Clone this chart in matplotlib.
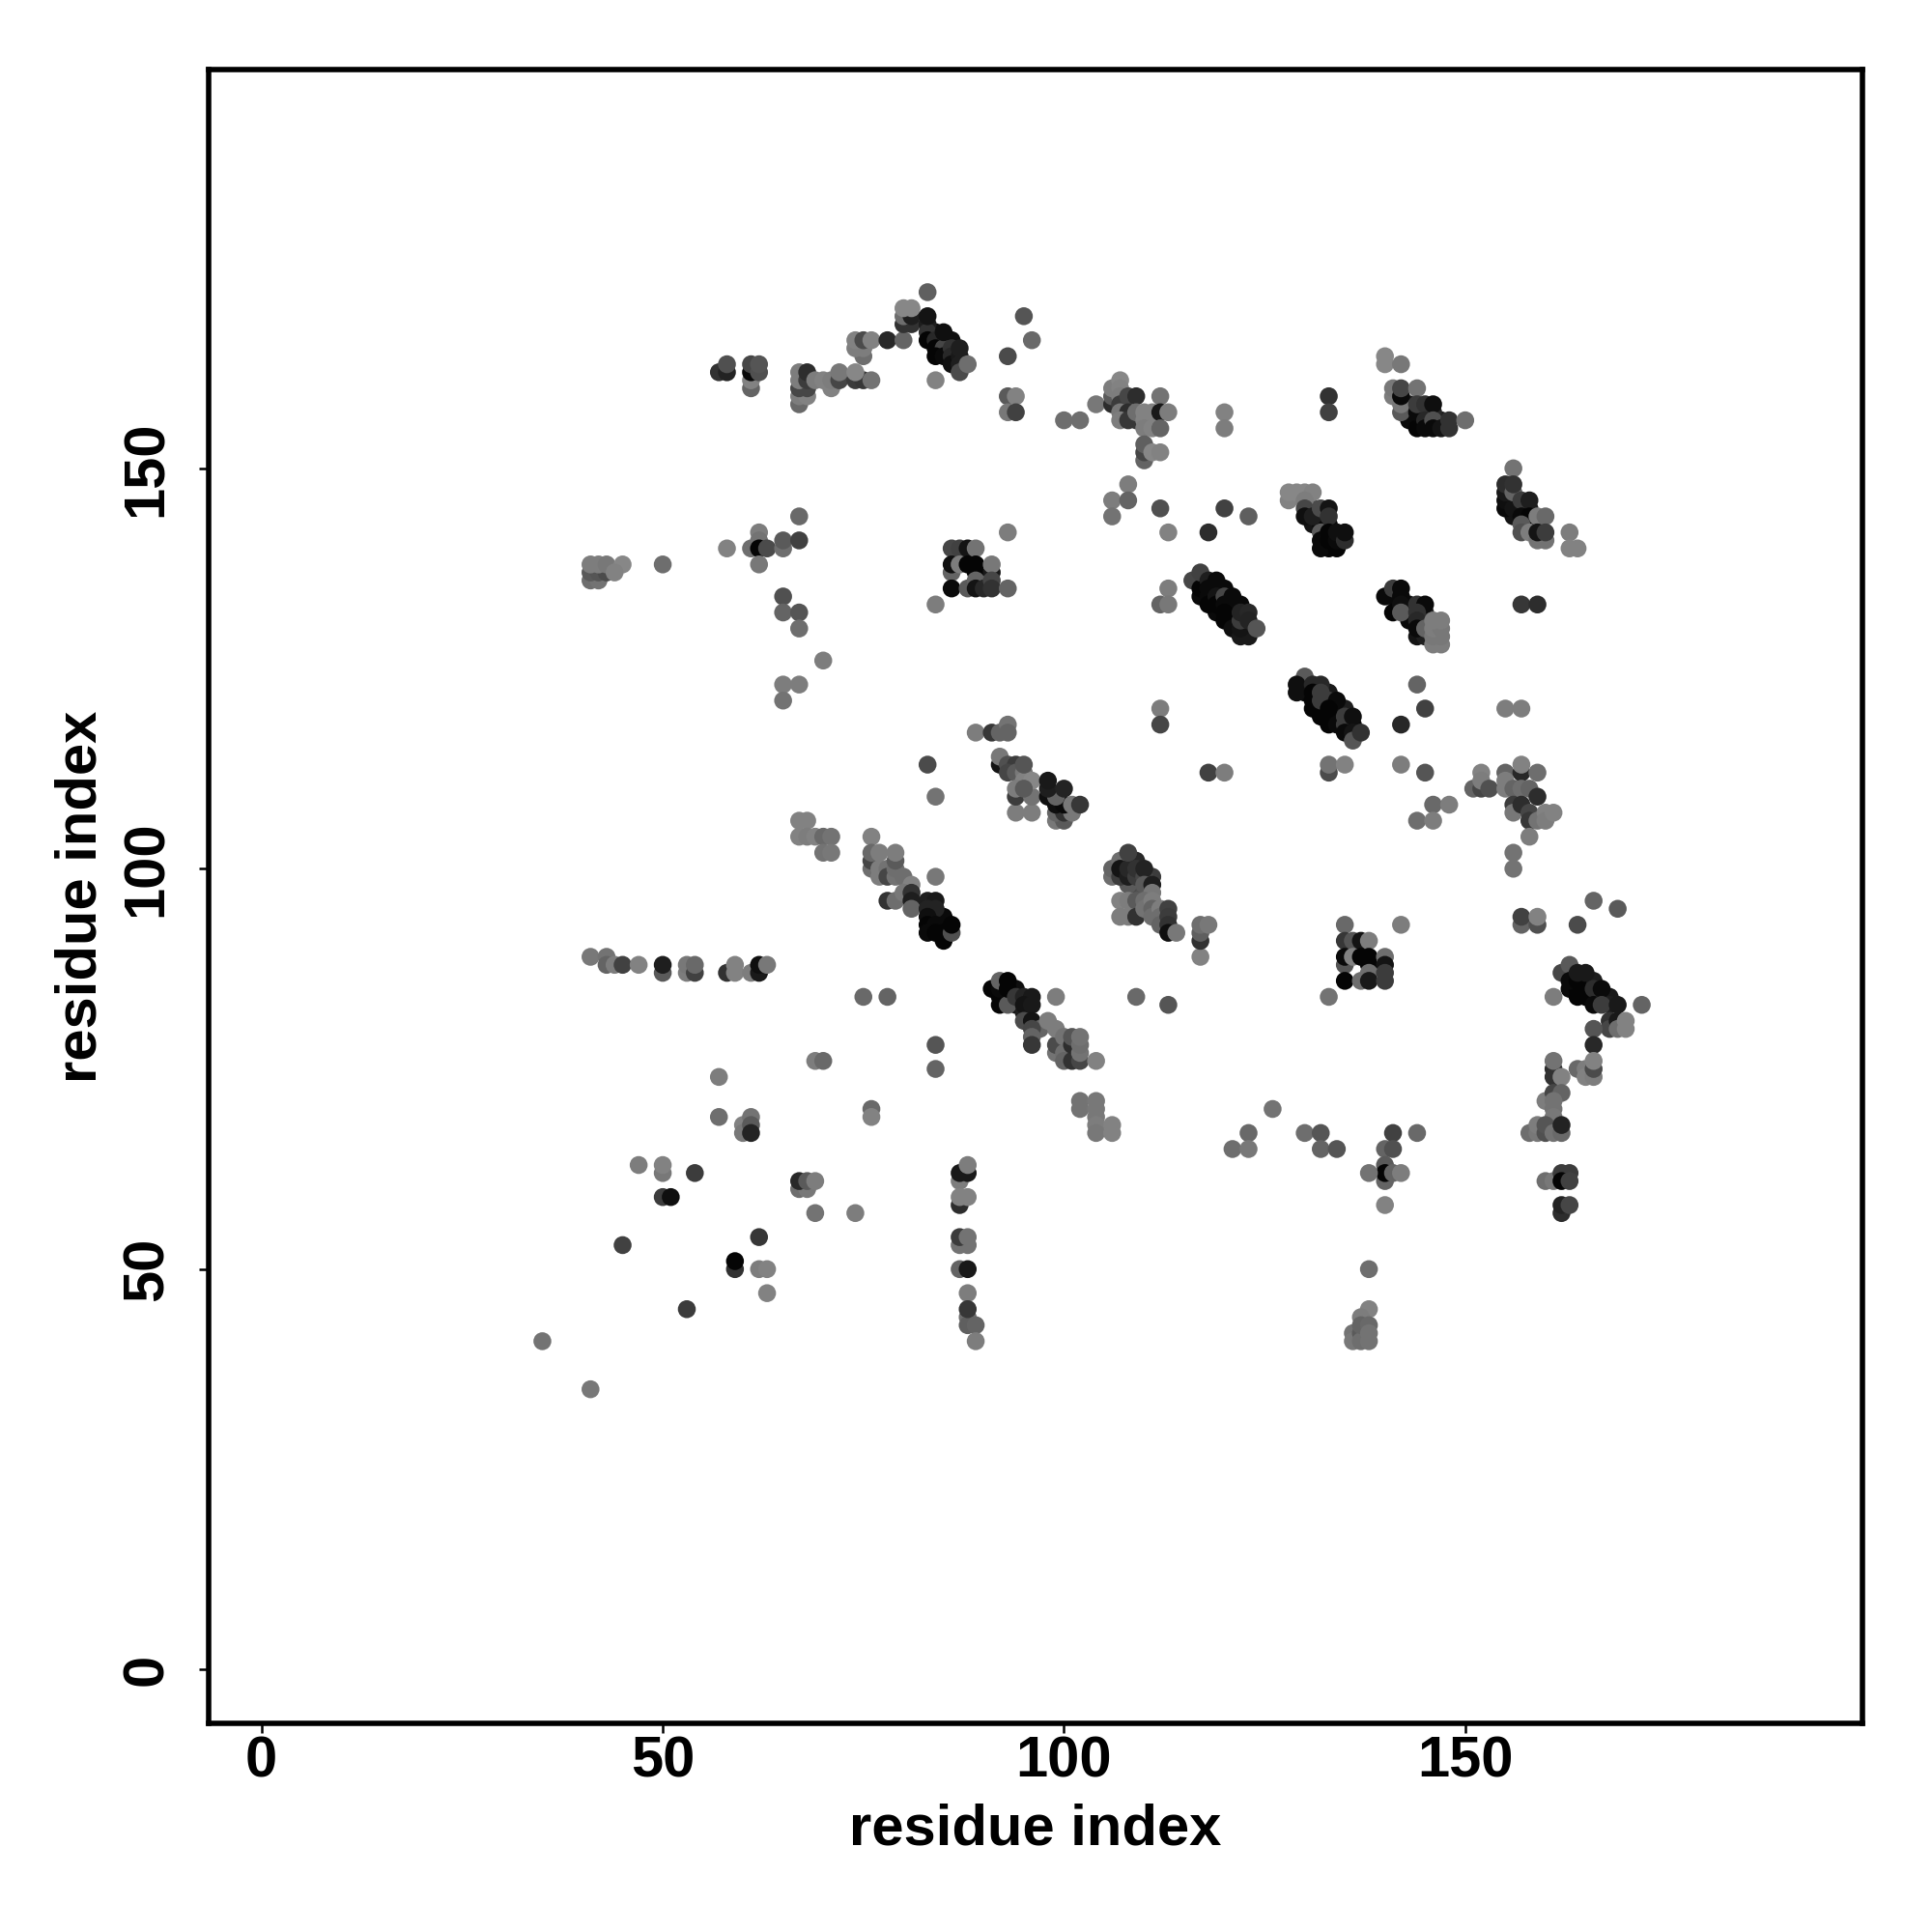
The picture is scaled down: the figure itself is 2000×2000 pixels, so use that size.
import matplotlib
matplotlib.use("Agg")
import numpy as np
import matplotlib.pyplot as plt

plt.rcParams['font.family'] = ['Liberation Sans', 'DejaVu Sans']
plt.rcParams['font.weight'] = 'bold'

# dots hidden under the dense diagonal bands, drawn first
under_x = [
    117,117,119,120,119,121,121,122,123,
    84,85,86,
    130,130,131,132,132,133,133,134,134,135,136,
    143,143,143,145,145,144,145,
    131,131,132,132,133,133,132,
    143,143,143,144,144,147,146,145,
    156,156,157,158,158,159,
    85,84,85,
    92,93,94,94,95,
    108,109,109,108,110,111,
    163,163,164,165,165,166,166,167,168,168,
]
under_y = [
    136,134,135,135,132,133,132,133,130,
    167,166,166,
    123,122,121,120,119,122,119,120,119,120,118,
    133,132,131,132,131,129,129,
    145,143,144,143,143,140,140,
    158,157,156,156,155,156,157,157,
    146,144,145,145,143,143,
    93,94,94,
    84,84,85,83,82,
    101,101,98,98,97,99,
    87,85,85,86,85,86,84,84,84,83,
]
under_shade = [
    10,10,10,10,10,10,10,10,20,
    15,15,15,
    10,10,5,5,5,25,5,15,10,30,10,
    15,10,10,40,40,20,30,
    70,20,40,10,10,5,10,
    30,10,10,10,5,30,40,30,
    30,20,25,30,20,30,
    10,15,10,
    5,5,15,20,30,
    40,40,70,90,80,60,
    20,10,5,30,5,30,10,15,25,30,
]

# contact map points, one row per cluster. shade is the grey level of the dot (0-255), later dots sit on top
res_x = [
    61,61,57,58,58,61,61,62,62,
    67,67,68,68,67,67,67,68,68,71,69,70,71,72,72,74,75,74,76,
    75,74,75,74,75,76,78,80,
    80,81,80,81,80,81,83,
    83,83,83,84,84,85,84,85,86,86,86,87,87,87,83,85,87,88,84,
    95,96,93,93,94,93,94,
    41,42,41,42,43,41,42,43,45,44,50,
    58,61,62,62,62,63,62,65,65,67,67,
    65,65,67,67,70,65,67,65,
    86,87,88,89,93,86,86,87,88,89,89,91,91,86,88,89,89,90,91,91,93,84,
    100,102,104,106,106,106,107,107,107,107,108,109,107,108,107,108,109,109,110,110,111,112,112,113,110,111,112,110,110,110,111,112,
    120,120,133,133,
    141,140,140,142,141,142,142,142,142,144,144,144,145,146,145,145,146,146,147,148,148,150,
    156,155,155,155,155,156,156,156,157,158,157,158,157,159,160,157,158,159,160,159,160,163,163,164,
    108,106,108,106,112,120,123,113,118,
    128,128,129,130,131,130,130,130,131,132,133,133,132,132,133,133,134,134,134,135,135,
    113,112,113,116,117,117,118,119,118,118,118,119,119,120,121,120,120,120,121,121,122,123,122,122,122,123,123,124,
    140,141,141,141,142,142,142,142,144,145,144,144,144,145,146,147,146,147,146,147,146,147,
    157,159,112,112,
    130,129,129,131,132,131,132,131,132,133,134,133,133,134,135,135,136,135,136,136,137,
    144,145,142,155,157,
    41,43,43,44,45,47,50,50,53,53,54,54,58,59,59,61,62,62,63,
    75,78,89,91,92,93,93,83,84,
    94,96,94,96,92,92,93,94,93,94,95,95,96,94,95,95,
    99,100,99,100,101,99,100,101,98,99,98,98,100,102,
    67,68,67,68,69,70,71,70,71,
    76,76,76,76,77,77,77,78,78,79,79,79,79,80,81,78,79,80,81,81,81,
    83,84,83,84,83,83,84,83,84,85,85,86,86,84,
    91,92,93,92,92,93,93,94,95,96,95,96,99,
    95,96,97,96,96,96,98,99,99,99,100,100,100,101,102,101,101,102,102,102,104,
    84,84,69,70,76,76,102,102,104,104,104,104,104,106,106,
    57,57,60,60,61,61,61,
    47,50,50,54,50,51,45,53,35,41,
    67,68,67,68,69,69,74,62,59,59,62,63,63,
    87,87,88,88,87,87,88,87,88,87,88,87,88,88,88,88,88,89,89,
    118,120,133,133,135,142,145,
    146,148,144,146,
    151,152,152,152,153,155,155,155,156,157,157,159,157,158,156,156,157,158,158,159,159,160,160,161,158,156,156,
    106,106,107,107,107,108,108,108,109,109,110,110,110,111,111,107,107,108,108,109,109,110,110,111,111,111,112,112,112,113,113,113,113,114,
    117,117,117,117,118,
    157,157,159,159,164,166,169,135,142,
    135,136,137,138,135,135,136,137,138,138,140,140,135,137,138,138,140,140,133,
    113,109,
    162,163,163,164,164,165,164,165,166,167,166,167,169,172,161,
    168,168,169,169,170,170,166,166,
    164,165,165,166,166,166,
    161,161,161,162,160,161,162,161,161,161,158,159,159,160,160,161,162,162,
    160,161,162,162,163,162,163,162,163,
    126,123,121,123,130,132,132,134,141,144,140,141,140,140,140,141,138,142,140,138,
    138,137,136,136,137,137,137,138,138,138,
]
res_y = [
    160,161,162,162,163,162,163,162,163,
    158,159,159,160,160,161,162,161,162,160,161,161,161,161,162,161,161,162,161,
    164,165,165,166,166,166,166,166,
    168,168,169,169,170,170,172,
    168,167,166,166,165,165,164,164,165,164,163,164,163,162,169,167,165,163,161,
    169,166,164,159,159,157,157,
    136,136,137,137,137,138,138,138,138,137,138,
    140,140,142,141,140,140,138,140,141,141,144,
    134,132,132,130,126,123,123,121,
    140,140,140,140,142,137,138,138,138,138,137,137,138,135,135,136,135,135,136,135,135,133,
    156,156,158,158,159,160,161,160,159,158,159,159,157,157,156,156,156,157,157,156,157,159,157,157,155,155,155,151,152,153,152,152,
    157,155,159,157,
    159,163,164,163,160,157,158,159,160,160,157,158,158,158,156,155,156,155,155,156,155,156,
    150,145,146,147,148,145,147,148,146,146,144,144,143,144,144,142,142,141,141,142,142,142,140,140,
    148,146,146,144,145,145,144,142,142,
    146,147,147,147,147,146,145,144,144,145,145,144,142,141,142,141,140,141,142,141,142,
    135,133,133,136,135,137,136,136,135,134,133,134,133,134,134,133,132,131,131,130,129,129,130,131,132,132,131,130,
    134,134,135,132,135,134,133,132,133,133,132,131,130,130,128,128,129,129,130,130,131,131,
    133,133,120,118,
    124,123,122,123,123,122,122,120,121,121,121,120,118,118,119,118,119,117,117,116,117,
    123,120,118,120,120,
    89,89,88,88,88,88,87,88,87,88,87,88,87,87,88,87,87,88,88,
    84,84,117,117,117,118,117,113,109,
    107,107,109,109,113,114,113,113,112,112,112,111,111,110,110,113,
    106,106,107,107,107,108,108,108,109,109,110,111,110,108,
    106,106,104,104,104,104,104,102,102,
    104,100,101,102,102,100,99,100,99,99,100,101,102,99,98,96,96,97,97,96,95,
    96,96,95,95,94,93,93,92,92,92,91,92,93,99,
    85,83,83,85,86,85,86,84,84,84,83,83,84,
    81,81,80,80,79,78,81,77,78,80,79,77,76,76,76,78,79,77,78,79,76,
    78,75,76,76,70,69,70,71,70,71,69,68,67,68,67,
    74,69,68,67,69,68,67,
    63,62,63,62,59,59,53,45,41,35,
    60,60,61,61,61,57,57,54,50,51,50,50,47,
    61,62,62,63,58,59,59,53,53,54,54,50,50,47,44,43,45,43,41,
    112,112,112,113,113,113,112,
    108,108,106,106,
    110,110,112,111,110,112,111,110,110,112,113,112,110,110,108,107,108,107,106,106,109,107,106,107,104,102,100,
    99,100,101,99,100,99,100,102,99,100,99,100,98,98,97,96,94,96,94,96,94,96,95,96,95,94,95,94,93,95,94,93,92,92,
    89,91,92,93,93,
    93,94,93,94,93,96,95,93,93,
    91,91,91,91,88,89,89,89,89,88,89,88,86,86,87,86,87,86,84,
    83,84,
    87,88,86,86,87,87,84,84,85,85,83,83,83,83,84,
    81,80,81,80,81,80,80,78,
    75,75,74,74,75,76,
    75,74,76,74,71,72,72,71,70,69,67,67,68,67,68,67,67,68,
    61,61,57,58,58,62,62,61,61,
    70,67,65,65,67,67,65,65,67,67,65,65,63,61,62,62,62,62,58,50,
    45,44,42,41,42,41,43,43,41,42,
]
shade = [
    100,130,50,35,80,10,70,80,85,
    105,125,130,70,70,125,125,60,45,130,125,130,125,70,120,60,55,135,115,
    110,125,125,130,75,130,40,100,
    50,50,110,30,135,135,95,
    30,50,5,40,5,70,5,10,50,40,15,25,30,75,20,15,30,110,130,
    85,105,75,90,130,120,65,
    110,115,90,85,75,125,125,120,135,130,110,
    130,110,125,115,5,75,120,110,90,65,105,
    80,100,85,110,125,125,125,115,
    70,65,20,115,125,100,15,125,5,5,5,25,120,10,90,100,20,40,70,50,100,125,
    110,110,120,45,90,125,135,130,125,60,70,45,120,45,125,55,55,110,130,130,130,115,25,125,125,130,100,100,70,95,135,130,
    130,125,50,65,
    125,135,135,120,120,90,120,10,70,115,10,60,50,15,40,10,80,10,20,50,50,110,
    115,10,15,25,45,20,100,50,60,30,10,5,90,125,105,80,125,115,115,20,60,125,130,130,
    125,125,100,115,80,65,95,130,45,
    130,135,135,135,130,125,70,15,30,75,20,50,90,10,5,5,5,10,15,45,15,
    125,100,120,70,5,65,30,10,10,10,5,20,5,70,10,10,5,5,5,15,25,25,20,60,35,40,35,85,
    10,10,60,5,10,10,15,90,50,10,50,40,10,100,125,125,120,120,125,120,125,125,
    55,45,125,70,
    90,15,15,40,40,5,60,5,60,60,10,5,5,10,60,60,15,10,20,85,50,
    100,65,40,125,125,
    120,115,100,125,65,130,90,30,125,120,65,105,50,130,130,125,25,15,120,
    105,100,125,55,100,115,100,75,115,
    125,125,60,115,20,120,80,60,70,90,120,130,135,125,90,85,
    120,90,100,50,120,15,10,120,15,100,30,25,35,55,
    130,130,130,125,130,105,115,115,120,
    130,110,70,105,125,125,125,115,70,115,110,90,125,110,130,50,110,120,50,30,100,
    30,25,35,35,15,5,10,10,5,5,5,80,5,120,
    5,5,90,10,100,5,5,55,35,25,20,25,125,
    75,20,100,70,100,55,125,115,75,125,115,110,100,50,70,45,85,115,110,115,130,
    85,100,125,105,105,130,115,115,120,120,120,125,120,130,130,
    125,110,130,120,115,90,35,
    125,120,130,60,60,15,65,60,115,120,
    110,120,40,90,125,115,125,55,50,5,125,130,130,
    125,25,25,125,45,130,130,115,115,60,115,100,25,125,110,95,55,100,125,
    65,125,75,115,130,125,85,
    105,125,110,125,
    100,70,130,125,80,100,125,125,100,40,130,110,110,100,60,120,45,70,55,115,45,130,125,130,125,115,115,
    110,100,110,60,20,30,40,65,60,50,70,35,90,30,120,130,125,125,125,90,50,110,115,125,100,110,125,110,100,65,60,50,15,120,
    130,50,95,110,120,
    100,65,80,130,75,100,90,105,125,
    55,85,20,125,85,10,130,5,5,5,110,20,5,110,110,25,60,60,115,
    85,105,
    70,90,10,5,25,25,5,5,45,10,10,60,25,100,125,
    50,70,25,110,130,130,85,40,
    105,125,130,125,75,130,
    45,50,115,130,125,70,100,115,115,120,110,120,125,80,85,115,105,35,
    110,120,45,35,70,60,60,5,65,
    115,105,110,120,110,85,100,85,65,105,100,80,90,100,5,100,115,125,130,110,
    130,125,115,120,90,110,100,105,115,115,
]

fig = plt.figure(figsize=(20, 20), dpi=100)
ax = fig.add_axes([216.3 / 2000, 216 / 2000, 1711.7 / 2000, 1712 / 2000])

all_x = under_x + res_x
all_y = under_y + res_y
grey = np.array(under_shade + shade) / 255
ax.scatter(all_x, all_y, s=178, c=np.column_stack([grey, grey, grey]), linewidths=0, zorder=2)

ax.set_xlim(-6.55, 199.5)
ax.set_ylim(-6.72, 199.8)
ax.set_xticks([0, 50, 100, 150])
ax.set_yticks([0, 50, 100, 150])
ax.tick_params(axis='both', length=7, width=1.8, labelsize=43)
ax.tick_params(axis='x', pad=2)
ax.tick_params(axis='y', pad=19)
for lab in ax.get_yticklabels():
    lab.set_rotation(90)
    lab.set_va('center')
for side in ax.spines.values():
    side.set_linewidth(4)

ax.set_xlabel('residue index', fontsize=43, fontweight='bold', labelpad=11)
ax.set_ylabel('residue index', fontsize=43, fontweight='bold', labelpad=10)

fig.savefig('out.png', dpi=100)
